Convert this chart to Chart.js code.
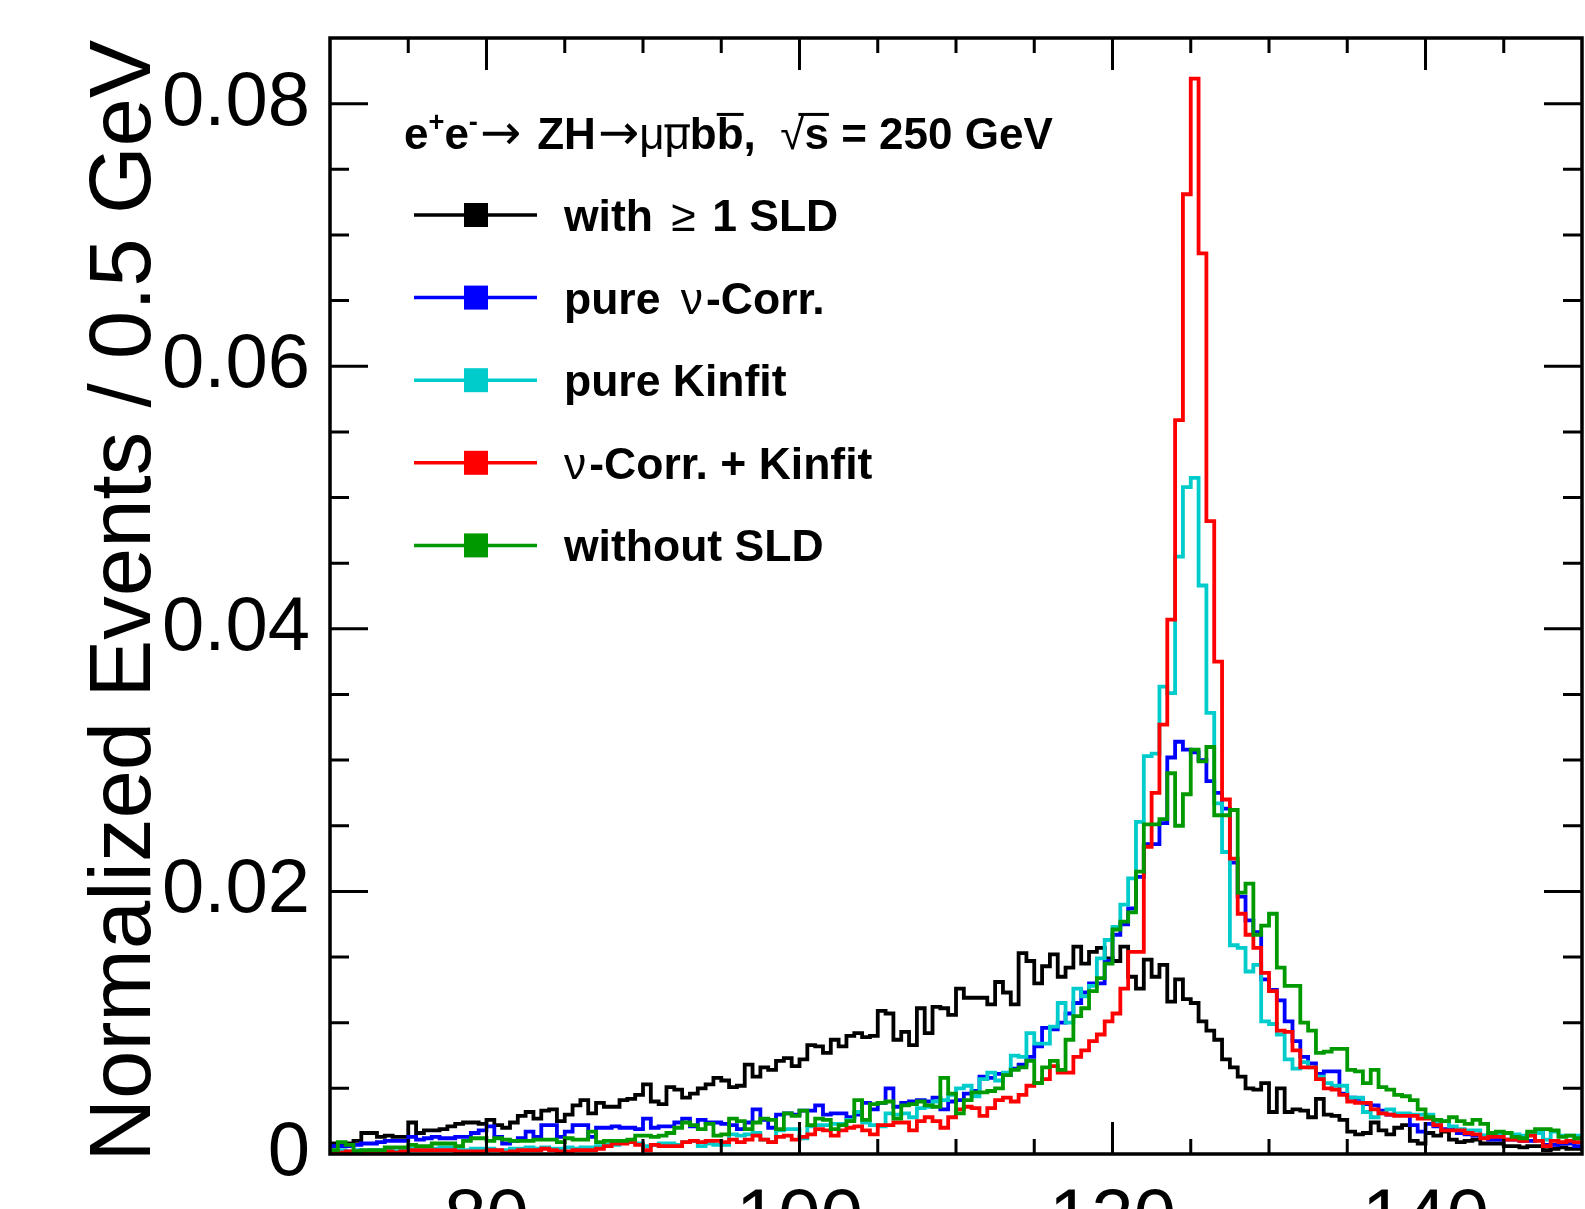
<!DOCTYPE html>
<html>
<head>
<meta charset="utf-8">
<script src="https://cdn.jsdelivr.net/npm/chart.js@4.4.1/dist/chart.umd.min.js"></script>
<style>
  html, body { margin: 0; padding: 0; background: #fff; }
</style>
</head>
<body>
<canvas id="mass" width="1585" height="1209"></canvas>
<script>
// binning of the m(bb) histograms: 160 bins of 0.5 GeV from 70 GeV
const binStart = 70;
const binWidth = 0.5;
const xTicks = [80, 100, 120, 140];
const yTicks = [0, 0.02, 0.04, 0.06, 0.08];
const seriesNames = ["with \u2265 1 SLD", "pure \u03bd-Corr.", "pure Kinfit", "\u03bd-Corr. + Kinfit", "without SLD"];

// normalized events per bin
const withSLD = [
  0.0008, 0.0008, 0.0008, 0.0010, 0.0016, 0.0016, 0.0013, 0.0014, 0.0013, 0.0013,
  0.0024, 0.0016, 0.0018, 0.0018, 0.0019, 0.0021, 0.0023, 0.0024, 0.0024, 0.0023,
  0.0026, 0.0022, 0.0020, 0.0024, 0.0029, 0.0032, 0.0027, 0.0033, 0.0034, 0.0025,
  0.0030, 0.0037, 0.0041, 0.0031, 0.0039, 0.0036, 0.0036, 0.0041, 0.0042, 0.0045,
  0.0053, 0.0040, 0.0038, 0.0051, 0.0049, 0.0043, 0.0046, 0.0050, 0.0053, 0.0058,
  0.0056, 0.0051, 0.0052, 0.0068, 0.0059, 0.0066, 0.0064, 0.0071, 0.0073, 0.0067,
  0.0072, 0.0083, 0.0082, 0.0077, 0.0087, 0.0082, 0.0090, 0.0092, 0.0089, 0.0090,
  0.0109, 0.0107, 0.0087, 0.0093, 0.0083, 0.0111, 0.0092, 0.0112, 0.0111, 0.0106,
  0.0126, 0.0119, 0.0119, 0.0119, 0.0114, 0.0131, 0.0123, 0.0114, 0.0153, 0.0147,
  0.0130, 0.0143, 0.0152, 0.0135, 0.0142, 0.0158, 0.0145, 0.0154, 0.0157, 0.0149,
  0.0147, 0.0158, 0.0135, 0.0126, 0.0148, 0.0135, 0.0144, 0.0116, 0.0133, 0.0118,
  0.0115, 0.0101, 0.0094, 0.0087, 0.0072, 0.0066, 0.0059, 0.0050, 0.0049, 0.0054,
  0.0032, 0.0050, 0.0032, 0.0034, 0.0033, 0.0028, 0.0042, 0.0030, 0.0029, 0.0026,
  0.0017, 0.0015, 0.0016, 0.0024, 0.0018, 0.0015, 0.0020, 0.0022, 0.0010, 0.0008,
  0.0016, 0.0014, 0.0017, 0.0011, 0.0009, 0.0010, 0.0011, 0.0008, 0.0008, 0.0008,
  0.0006, 0.0006, 0.0005, 0.0006, 0.0006, 0.0003, 0.0004, 0.0005, 0.0004, 0.0004
];

const pureNuCorr = [
  0.0006, 0.0006, 0.0006, 0.0007, 0.0008, 0.0008, 0.0009, 0.0010, 0.0010, 0.0010,
  0.0013, 0.0011, 0.0012, 0.0013, 0.0012, 0.0012, 0.0013, 0.0013, 0.0016, 0.0018,
  0.0021, 0.0013, 0.0008, 0.0010, 0.0012, 0.0017, 0.0013, 0.0022, 0.0022, 0.0013,
  0.0017, 0.0022, 0.0022, 0.0013, 0.0020, 0.0020, 0.0021, 0.0020, 0.0020, 0.0019,
  0.0027, 0.0020, 0.0021, 0.0021, 0.0024, 0.0027, 0.0021, 0.0026, 0.0024, 0.0024,
  0.0023, 0.0022, 0.0019, 0.0024, 0.0034, 0.0026, 0.0020, 0.0030, 0.0031, 0.0030,
  0.0033, 0.0033, 0.0037, 0.0030, 0.0031, 0.0031, 0.0028, 0.0030, 0.0039, 0.0034,
  0.0039, 0.0050, 0.0036, 0.0039, 0.0040, 0.0041, 0.0040, 0.0043, 0.0034, 0.0040,
  0.0041, 0.0046, 0.0048, 0.0059, 0.0058, 0.0061, 0.0060, 0.0065, 0.0068, 0.0074,
  0.0082, 0.0096, 0.0095, 0.0100, 0.0107, 0.0115, 0.0123, 0.0130, 0.0130, 0.0147,
  0.0167, 0.0175, 0.0187, 0.0211, 0.0236, 0.0236, 0.0252, 0.0302, 0.0314, 0.0308,
  0.0306, 0.0300, 0.0284, 0.0275, 0.0263, 0.0222, 0.0196, 0.0178, 0.0169, 0.0133,
  0.0125, 0.0117, 0.0101, 0.0086, 0.0074, 0.0069, 0.0061, 0.0063, 0.0063, 0.0046,
  0.0043, 0.0042, 0.0038, 0.0037, 0.0033, 0.0030, 0.0030, 0.0030, 0.0022, 0.0017,
  0.0023, 0.0021, 0.0019, 0.0019, 0.0016, 0.0015, 0.0014, 0.0014, 0.0011, 0.0011,
  0.0011, 0.0011, 0.0010, 0.0010, 0.0016, 0.0007, 0.0007, 0.0008, 0.0008, 0.0006
];

const pureKinfit = [
  0.0003, 0.0003, 0.0002, 0.0003, 0.0002, 0.0003, 0.0003, 0.0003, 0.0002, 0.0003,
  0.0004, 0.0004, 0.0004, 0.0004, 0.0005, 0.0005, 0.0004, 0.0003, 0.0004, 0.0004,
  0.0004, 0.0003, 0.0003, 0.0004, 0.0004, 0.0005, 0.0004, 0.0005, 0.0004, 0.0004,
  0.0005, 0.0004, 0.0005, 0.0005, 0.0006, 0.0007, 0.0007, 0.0009, 0.0009, 0.0008,
  0.0006, 0.0007, 0.0008, 0.0008, 0.0007, 0.0009, 0.0010, 0.0006, 0.0008, 0.0007,
  0.0007, 0.0015, 0.0014, 0.0015, 0.0016, 0.0011, 0.0009, 0.0018, 0.0019, 0.0019,
  0.0012, 0.0021, 0.0022, 0.0022, 0.0023, 0.0023, 0.0026, 0.0032, 0.0024, 0.0022,
  0.0021, 0.0031, 0.0030, 0.0031, 0.0028, 0.0035, 0.0036, 0.0040, 0.0041, 0.0045,
  0.0050, 0.0052, 0.0044, 0.0057, 0.0062, 0.0056, 0.0062, 0.0075, 0.0074, 0.0092,
  0.0084, 0.0084, 0.0097, 0.0115, 0.0100, 0.0126, 0.0120, 0.0128, 0.0149, 0.0163,
  0.0173, 0.0190, 0.0210, 0.0253, 0.0303, 0.0305, 0.0356, 0.0351, 0.0455, 0.0508,
  0.0515, 0.0433, 0.0336, 0.0267, 0.0230, 0.0159, 0.0157, 0.0139, 0.0144, 0.0101,
  0.0099, 0.0091, 0.0072, 0.0065, 0.0070, 0.0066, 0.0059, 0.0054, 0.0052, 0.0052,
  0.0043, 0.0043, 0.0032, 0.0028, 0.0031, 0.0034, 0.0031, 0.0031, 0.0030, 0.0030,
  0.0030, 0.0024, 0.0025, 0.0021, 0.0019, 0.0018, 0.0018, 0.0014, 0.0016, 0.0016,
  0.0016, 0.0015, 0.0014, 0.0016, 0.0016, 0.0011, 0.0017, 0.0014, 0.0014, 0.0014
];

const nuCorrKinfit = [
  0.0002, 0.0001, 0.0002, 0.0002, 0.0001, 0.0002, 0.0002, 0.0002, 0.0001, 0.0002,
  0.0003, 0.0003, 0.0003, 0.0003, 0.0003, 0.0003, 0.0002, 0.0002, 0.0002, 0.0002,
  0.0003, 0.0003, 0.0001, 0.0002, 0.0003, 0.0003, 0.0003, 0.0004, 0.0003, 0.0002,
  0.0002, 0.0003, 0.0003, 0.0003, 0.0004, 0.0006, 0.0008, 0.0008, 0.0009, 0.0007,
  0.0003, 0.0007, 0.0006, 0.0006, 0.0006, 0.0009, 0.0010, 0.0009, 0.0010, 0.0010,
  0.0009, 0.0011, 0.0009, 0.0011, 0.0014, 0.0011, 0.0009, 0.0013, 0.0014, 0.0011,
  0.0013, 0.0015, 0.0019, 0.0018, 0.0014, 0.0018, 0.0020, 0.0021, 0.0018, 0.0015,
  0.0022, 0.0022, 0.0024, 0.0024, 0.0018, 0.0025, 0.0028, 0.0025, 0.0020, 0.0028,
  0.0034, 0.0036, 0.0035, 0.0029, 0.0035, 0.0041, 0.0043, 0.0040, 0.0045, 0.0052,
  0.0054, 0.0057, 0.0067, 0.0062, 0.0062, 0.0074, 0.0079, 0.0086, 0.0091, 0.0101,
  0.0107, 0.0126, 0.0154, 0.0154, 0.0234, 0.0275, 0.0327, 0.0407, 0.0559, 0.0731,
  0.0819, 0.0686, 0.0482, 0.0375, 0.0270, 0.0225, 0.0183, 0.0167, 0.0157, 0.0138,
  0.0124, 0.0094, 0.0093, 0.0079, 0.0066, 0.0066, 0.0057, 0.0050, 0.0049, 0.0045,
  0.0040, 0.0039, 0.0039, 0.0034, 0.0031, 0.0030, 0.0029, 0.0029, 0.0029, 0.0027,
  0.0027, 0.0022, 0.0018, 0.0018, 0.0018, 0.0016, 0.0015, 0.0012, 0.0013, 0.0013,
  0.0011, 0.0011, 0.0010, 0.0014, 0.0010, 0.0006, 0.0010, 0.0009, 0.0010, 0.0009
];

const withoutSLD = [
  0.0003, 0.0009, 0.0007, 0.0002, 0.0003, 0.0003, 0.0003, 0.0005, 0.0005, 0.0005,
  0.0007, 0.0006, 0.0006, 0.0008, 0.0008, 0.0008, 0.0006, 0.0010, 0.0012, 0.0012,
  0.0010, 0.0012, 0.0011, 0.0010, 0.0010, 0.0010, 0.0011, 0.0011, 0.0011, 0.0009,
  0.0012, 0.0011, 0.0011, 0.0017, 0.0009, 0.0010, 0.0010, 0.0010, 0.0011, 0.0014,
  0.0014, 0.0013, 0.0014, 0.0016, 0.0020, 0.0024, 0.0022, 0.0019, 0.0023, 0.0014,
  0.0015, 0.0027, 0.0025, 0.0019, 0.0024, 0.0027, 0.0026, 0.0019, 0.0031, 0.0029,
  0.0033, 0.0022, 0.0027, 0.0026, 0.0019, 0.0022, 0.0025, 0.0041, 0.0026, 0.0038,
  0.0039, 0.0040, 0.0027, 0.0037, 0.0038, 0.0040, 0.0037, 0.0036, 0.0058, 0.0046,
  0.0031, 0.0041, 0.0047, 0.0047, 0.0048, 0.0050, 0.0060, 0.0064, 0.0066, 0.0071,
  0.0054, 0.0066, 0.0071, 0.0064, 0.0087, 0.0105, 0.0111, 0.0124, 0.0134, 0.0145,
  0.0171, 0.0177, 0.0184, 0.0215, 0.0251, 0.0251, 0.0255, 0.0290, 0.0250, 0.0274,
  0.0308, 0.0299, 0.0310, 0.0258, 0.0258, 0.0262, 0.0199, 0.0206, 0.0167, 0.0174,
  0.0183, 0.0142, 0.0128, 0.0128, 0.0100, 0.0094, 0.0077, 0.0078, 0.0080, 0.0080,
  0.0064, 0.0063, 0.0054, 0.0064, 0.0051, 0.0049, 0.0045, 0.0044, 0.0041, 0.0034,
  0.0028, 0.0026, 0.0025, 0.0028, 0.0025, 0.0023, 0.0026, 0.0023, 0.0016, 0.0017,
  0.0016, 0.0013, 0.0012, 0.0017, 0.0019, 0.0019, 0.0018, 0.0013, 0.0014, 0.0012
];

const FONT = '"Liberation Sans", Arial, Helvetica, sans-serif';
const SYMFONT = '"DejaVu Sans", "Liberation Sans", sans-serif';

// one point per bin low edge, plus the upper edge of the last bin
function histPoints(values) {
  const pts = values.map((v, i) => ({ x: binStart + i * binWidth, y: v }));
  pts.push({ x: binStart + values.length * binWidth, y: values[values.length - 1] });
  return pts;
}

function histDataset(label, values, color, order) {
  return {
    label: label,
    data: histPoints(values),
    borderColor: color,
    backgroundColor: color,
    borderWidth: 3.8,
    stepped: 'before',
    pointRadius: 0,
    fill: false,
    order: order,
  };
}

// draw a piece of ROOT-like latex: list of runs with bold / superscript / overline
function drawRuns(ctx, x, y, size, runs) {
  let cx = x;
  for (const r of runs) {
    cx += r.pre || 0;
    const s = (r.sup ? size * 0.62 : size) * (r.scale || 1);
    ctx.font = (r.bold ? 'bold ' : '') + s + 'px ' + (r.sym ? SYMFONT : FONT);
    const dy = r.sup ? -size * 0.4 : 0;
    ctx.fillText(r.t, cx, y + dy);
    const w = ctx.measureText(r.t).width;
    if (r.bar) {
      ctx.fillRect(cx + (r.barPad || 0), y - r.bar * size, w - (r.barPad || 0), 3);
    }
    cx += w + (r.post || 0);
  }
}

const rootFrame = {
  id: 'rootFrame',
  afterDatasetsDraw(chart) {
    const { ctx, chartArea: a, scales: { x, y } } = chart;
    ctx.save();
    ctx.strokeStyle = '#000';
    ctx.lineWidth = 3;
    ctx.beginPath();
    for (let v = 75; v < 150; v += 5) {
      const px = x.getPixelForValue(v);
      const len = xTicks.includes(v) ? 32 : 15;
      ctx.moveTo(px, a.bottom); ctx.lineTo(px, a.bottom - len);
      ctx.moveTo(px, a.top); ctx.lineTo(px, a.top + len);
    }
    for (let k = 1; k * 0.005 < 0.085; k++) {
      const py = y.getPixelForValue(k * 0.005);
      const len = k % 4 === 0 ? 38 : 19;
      ctx.moveTo(a.left, py); ctx.lineTo(a.left + len, py);
      ctx.moveTo(a.right, py); ctx.lineTo(a.right - len, py);
    }
    ctx.stroke();
    ctx.lineWidth = 3.5;
    ctx.strokeRect(a.left, a.top, a.right - a.left, a.bottom - a.top);

    // y axis title, aligned to the top end of the axis
    ctx.fillStyle = '#000';
    ctx.save();
    ctx.translate(150, 40);
    ctx.rotate(-Math.PI / 2);
    ctx.font = '87px ' + FONT;
    ctx.textAlign = 'right';
    ctx.textBaseline = 'alphabetic';
    ctx.fillText('Normalized Events / 0.5 GeV', 0, 0);
    ctx.restore();

    // process label
    ctx.textAlign = 'left';
    ctx.textBaseline = 'alphabetic';
    drawRuns(ctx, 404, 149, 44, [
      { t: 'e', bold: true }, { t: '+', bold: true, sup: true },
      { t: 'e', bold: true }, { t: '-', bold: true, sup: true },
      { t: '\u2192', sym: true, scale: 1.12, pre: 2, post: 16 }, { t: 'ZH', bold: true },
      { t: '\u2192', sym: true, scale: 1.12, pre: 2 },
      { t: '\u03bc' }, { t: '\u03bc', bar: 0.56 },
      { t: 'b', bold: true }, { t: 'b', bold: true, bar: 0.82 },
      { t: ',  ', bold: true }, { t: '\u221a' },
      { t: 's', bold: true, bar: 0.82, barPad: -6 },
      { t: ' = 250 GeV', bold: true },
    ]);

    // legend
    const ds = chart.data.datasets;
    const rowRuns = [
      [{ t: 'with ', bold: true }, { t: '\u2265', pre: 6, post: 4 }, { t: ' 1 SLD', bold: true }],
      [{ t: 'pure ', bold: true }, { t: '\u03bd', pre: 8, post: 3 }, { t: '-Corr.', bold: true }],
      [{ t: 'pure Kinfit', bold: true }],
      [{ t: '\u03bd', post: 3 }, { t: '-Corr. + Kinfit', bold: true }],
      [{ t: 'without SLD', bold: true }],
    ];
    for (let i = 0; i < ds.length; i++) {
      const cy = 215 + i * 82.6;
      ctx.strokeStyle = ds[i].borderColor;
      ctx.fillStyle = ds[i].borderColor;
      ctx.lineWidth = 3.5;
      ctx.beginPath();
      ctx.moveTo(414, cy); ctx.lineTo(537, cy);
      ctx.stroke();
      ctx.fillRect(464, cy - 12, 24, 24);
      ctx.fillStyle = '#000';
      drawRuns(ctx, 564, cy + 16, 44.5, rowRuns[i]);
    }
    ctx.restore();
  }
};

const config = {
  type: 'line',
  data: {
    datasets: [
      histDataset(seriesNames[0], withSLD, '#000000', 4),
      histDataset(seriesNames[1], pureNuCorr, '#0000ff', 3),
      histDataset(seriesNames[2], pureKinfit, '#00cccc', 2),
      histDataset(seriesNames[3], nuCorrKinfit, '#ff0000', 1),
      histDataset(seriesNames[4], withoutSLD, '#009900', 0),
    ],
  },
  options: {
    responsive: false,
    animation: false,
    layout: { padding: { top: 38, right: 3, left: 0, bottom: 0 } },
    plugins: {
      legend: { display: false },
      tooltip: { enabled: false },
    },
    scales: {
      x: {
        type: 'linear',
        min: binStart,
        max: binStart + withSLD.length * binWidth,
        grid: { display: false },
        border: { display: false },
        ticks: {
          color: '#000',
          font: { family: FONT, size: 76 },
          padding: 13,
          maxRotation: 0,
          autoSkip: false,
          callback: (v) => String(v),
        },
        afterBuildTicks: (s) => { s.ticks = xTicks.map((v) => ({ value: v })); },
        afterFit: (s) => { s.height = 55; s.paddingLeft = 0; s.paddingRight = 0; },
      },
      y: {
        type: 'linear',
        min: 0,
        max: 0.085,
        grid: { display: false },
        border: { display: false },
        ticks: {
          color: '#000',
          font: { family: FONT, size: 76 },
          padding: 12,
          callback: (v) => (v === 0 ? '0' : v.toFixed(2)),
        },
        afterBuildTicks: (s) => { s.ticks = yTicks.map((v) => ({ value: v })); },
        afterFit: (s) => { s.width = 330; s.paddingTop = 0; s.paddingBottom = 0; },
      },
    },
  },
  plugins: [rootFrame],
};

new Chart(document.getElementById('mass'), config);
</script>
</body>
</html>
